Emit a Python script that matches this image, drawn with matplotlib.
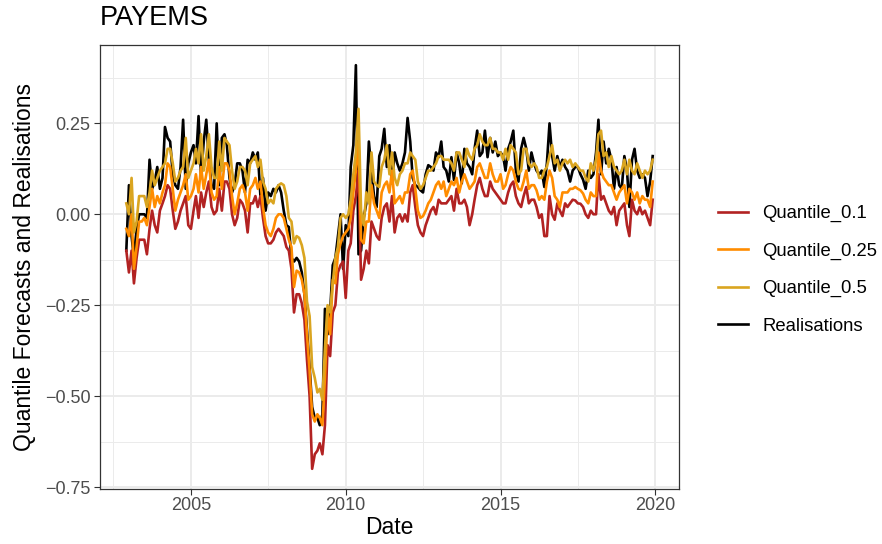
import matplotlib
matplotlib.use("Agg")
import matplotlib.pyplot as plt
import matplotlib.dates as mdates
import pandas as pd
from matplotlib.ticker import FuncFormatter, FixedLocator

plt.rcParams['font.family'] = ['Liberation Sans', 'DejaVu Sans']

# Monthly observations, Dec 2002 .. Dec 2019
start_month = '2002-12-01'
n_months = 205

realisations = [
    -0.10,
    0.08, -0.06, -0.12, -0.04, 0.00, 0.00, 0.00, -0.01, 0.15, 0.07, 0.09, 0.13,
    0.07, 0.10, 0.24, 0.21, 0.20, 0.11, 0.08, 0.07, 0.13, 0.26, 0.07, 0.14,
    0.17, 0.19, 0.14, 0.27, 0.10, 0.20, 0.26, 0.15, 0.08, 0.07, 0.25, 0.08,
    0.21, 0.22, 0.19, 0.10, 0.06, 0.08, 0.14, 0.14, 0.12, 0.06, 0.15, 0.14,
    0.17, 0.15, 0.17, 0.05, 0.10, 0.01, 0.06, 0.05, 0.07, 0.06, 0.08, 0.06,
    0.01, -0.03, -0.035, -0.12, -0.13, -0.12, -0.13, -0.16, -0.22, -0.32, -0.42, -0.53,
    -0.56, -0.56, -0.58, -0.55, -0.26, -0.33, -0.27, -0.14, -0.12, -0.06, 0.00, -0.15,
    -0.03, -0.06, 0.13, 0.19, 0.41, -0.11, -0.10, -0.01, 0.03, 0.20, 0.12, 0.05,
    0.02, 0.16, 0.18, 0.235, 0.13, 0.19, 0.085, 0.17, 0.14, 0.12, 0.14, 0.17,
    0.265, 0.20, 0.10, 0.08, 0.075, 0.066, 0.06, 0.11, 0.135, 0.13, 0.12, 0.17,
    0.157, 0.20, 0.13, 0.12, 0.09, 0.157, 0.094, 0.17, 0.14, 0.085, 0.18, 0.14,
    0.13, 0.11, 0.18, 0.23, 0.16, 0.17, 0.23, 0.157, 0.21, 0.17, 0.20, 0.16,
    0.17, 0.16, 0.12, 0.18, 0.20, 0.23, 0.12, 0.09, 0.18, 0.21, 0.18, 0.12,
    0.17, 0.14, 0.12, 0.11, 0.12, 0.075, 0.14, 0.25, 0.16, 0.12, 0.16, 0.13,
    0.15, 0.13, 0.12, 0.09, 0.12, 0.13, 0.13, 0.11, 0.095, 0.07, 0.12, 0.10,
    0.11, 0.17, 0.26, 0.11, 0.20, 0.14, 0.18, 0.15, 0.07, 0.13, 0.08, 0.07,
    0.16, 0.12, 0.02, 0.15, 0.18, 0.12, 0.10, 0.11, 0.10, 0.05, 0.09, 0.16,
]

quantile_50 = [
    0.03,
    0.00, 0.10, -0.05, -0.02, 0.05, 0.05, 0.05, 0.02, 0.06, 0.12, 0.08, 0.10,
    0.12, 0.13, 0.14, 0.18, 0.18, 0.14, 0.09, 0.10, 0.12, 0.13, 0.21, 0.10,
    0.12, 0.14, 0.18, 0.14, 0.22, 0.12, 0.16, 0.22, 0.13, 0.10, 0.10, 0.20,
    0.12, 0.21, 0.20, 0.19, 0.12, 0.07, 0.09, 0.13, 0.13, 0.12, 0.08, 0.14,
    0.15, 0.16, 0.13, 0.15, 0.09, 0.07, 0.03, 0.04, 0.03, 0.07, 0.08, 0.085,
    0.08, 0.05, -0.01, -0.02, -0.08, -0.06, -0.065, -0.085, -0.12, -0.24, -0.28, -0.42,
    -0.45, -0.49, -0.48, -0.51, -0.37, -0.25, -0.27, -0.19, -0.12, -0.09, -0.01, 0.00,
    -0.01, 0.00, 0.04, 0.11, 0.17, 0.29, 0.01, -0.03, 0.06, 0.03, 0.17, 0.09,
    0.08, 0.075, 0.13, 0.15, 0.19, 0.11, 0.17, 0.10, 0.08, 0.11, 0.12, 0.14,
    0.14, 0.17, 0.16, 0.15, 0.09, 0.07, 0.08, 0.10, 0.12, 0.12, 0.13, 0.14,
    0.16, 0.16, 0.15, 0.15, 0.15, 0.14, 0.12, 0.17, 0.17, 0.15, 0.13, 0.18,
    0.16, 0.15, 0.18, 0.19, 0.22, 0.20, 0.19, 0.19, 0.21, 0.18, 0.18, 0.17,
    0.17, 0.15, 0.18, 0.15, 0.19, 0.18, 0.17, 0.11, 0.12, 0.18, 0.18, 0.14,
    0.13, 0.14, 0.13, 0.10, 0.10, 0.12, 0.13, 0.16, 0.19, 0.14, 0.15, 0.12,
    0.14, 0.15, 0.14, 0.15, 0.13, 0.14, 0.13, 0.12, 0.12, 0.10, 0.09, 0.14,
    0.12, 0.15, 0.22, 0.23, 0.16, 0.17, 0.13, 0.16, 0.13, 0.12, 0.11, 0.12,
    0.15, 0.11, 0.15, 0.12, 0.11, 0.14, 0.12, 0.10, 0.12, 0.11, 0.12, 0.15,
]

quantile_25 = [
    -0.04,
    -0.06, 0.00, -0.15, -0.09, -0.02, -0.02, -0.01, -0.03, 0.02, 0.07, 0.02, 0.05,
    0.03, 0.06, 0.08, 0.14, 0.13, 0.07, 0.01, 0.04, 0.06, 0.08, 0.11, 0.04,
    0.05, 0.07, 0.11, 0.06, 0.13, 0.07, 0.11, 0.15, 0.06, 0.04, 0.05, 0.13,
    0.07, 0.14, 0.14, 0.12, 0.05, 0.00, 0.03, 0.07, 0.08, 0.06, 0.01, 0.07,
    0.08, 0.10, 0.07, 0.09, 0.02, -0.03, -0.05, -0.06, -0.04, -0.01, 0.00, 0.00,
    -0.01, -0.04, -0.07, -0.09, -0.20, -0.155, -0.16, -0.18, -0.22, -0.33, -0.43, -0.55,
    -0.57, -0.55, -0.56, -0.58, -0.45, -0.27, -0.33, -0.18, -0.19, -0.11, -0.08, -0.06,
    -0.05, -0.04, -0.01, 0.06, 0.12, 0.20, -0.07, -0.08, -0.02, -0.02, 0.08, 0.03,
    0.01, -0.01, 0.06, 0.08, 0.09, 0.06, 0.12, 0.03, 0.04, 0.05, 0.03, 0.06,
    0.06, 0.11, 0.12, 0.07, 0.01, -0.01, -0.005, 0.01, 0.03, 0.04, 0.06, 0.08,
    0.09, 0.07, 0.09, 0.05, 0.07, 0.09, 0.08, 0.10, 0.06, 0.09, 0.11, 0.09,
    0.07, 0.08, 0.09, 0.13, 0.14, 0.12, 0.10, 0.10, 0.14, 0.11, 0.09, 0.09,
    0.11, 0.07, 0.08, 0.11, 0.13, 0.12, 0.09, 0.07, 0.066, 0.09, 0.12, 0.07,
    0.08, 0.08, 0.066, 0.04, 0.05, 0.04, 0.09, 0.12, 0.10, 0.05, 0.04, 0.02,
    0.06, 0.06, 0.06, 0.07, 0.07, 0.075, 0.07, 0.066, 0.057, 0.04, 0.03, 0.06,
    0.05, 0.05, 0.17, 0.12, 0.10, 0.09, 0.08, 0.08, 0.06, 0.04, 0.06, 0.07,
    0.08, 0.03, 0.07, 0.06, 0.04, 0.06, 0.03, 0.05, 0.04, 0.04, 0.02, 0.09,
]

quantile_10 = [
    -0.10,
    -0.16, -0.10, -0.19, -0.12, -0.07, -0.07, -0.07, -0.11, -0.04, 0.01, -0.03, -0.05,
    0.01, 0.03, 0.05, 0.08, 0.07, 0.01, -0.04, -0.02, 0.01, 0.03, 0.05, -0.03,
    -0.04, 0.01, 0.05, -0.01, 0.06, 0.02, 0.06, 0.09, 0.02, 0.00, 0.01, 0.07,
    0.01, 0.09, 0.09, 0.07, 0.00, -0.03, -0.01, 0.04, 0.03, 0.01, -0.05, 0.03,
    0.03, 0.05, 0.02, 0.05, -0.01, -0.06, -0.08, -0.08, -0.07, -0.05, -0.04, -0.05,
    -0.06, -0.09, -0.10, -0.15, -0.27, -0.22, -0.22, -0.245, -0.29, -0.40, -0.50, -0.70,
    -0.66, -0.65, -0.63, -0.66, -0.58, -0.36, -0.39, -0.27, -0.25, -0.16, -0.14, -0.13,
    -0.23, -0.10, -0.08, 0.01, 0.05, 0.12, -0.18, -0.15, -0.10, -0.135, -0.02, -0.04,
    -0.06, -0.07, -0.01, 0.02, 0.03, -0.02, 0.05, -0.05, -0.01, 0.00, -0.02, 0.00,
    -0.02, 0.06, 0.08, 0.02, -0.03, -0.05, -0.06, -0.03, -0.01, 0.01, 0.02, 0.00,
    0.04, 0.03, 0.03, 0.03, 0.04, 0.05, 0.01, 0.07, 0.03, 0.03, 0.04, 0.02,
    -0.03, 0.00, 0.04, 0.08, 0.10, 0.07, 0.05, 0.05, 0.09, 0.07, 0.06, 0.05,
    0.04, 0.03, 0.03, 0.06, 0.08, 0.09, 0.05, 0.03, 0.02, 0.05, 0.075, 0.03,
    0.04, 0.04, 0.02, -0.01, 0.00, -0.06, -0.06, 0.05, 0.00, -0.015, 0.03, 0.01,
    -0.005, 0.03, 0.02, 0.03, 0.04, 0.038, 0.03, 0.029, 0.02, 0.00, -0.01, 0.01,
    0.00, 0.00, 0.11, 0.04, 0.05, 0.03, 0.01, 0.00, 0.02, -0.03, 0.01, 0.02,
    0.03, -0.03, -0.06, 0.04, 0.01, 0.00, 0.02, 0.00, 0.01, -0.01, -0.03, 0.04,
]

series_labels = ['Quantile_0.1', 'Quantile_0.25', 'Quantile_0.5', 'Realisations']
series_colors = ['#B22222', '#FF8C00', '#DAA520', '#000000']
y_ticks = [-0.75, -0.50, -0.25, 0.00, 0.25]
y_minor = [-0.625, -0.375, -0.125, 0.125, 0.375]
x_tick_years = [2005, 2010, 2015, 2020]
x_minor_dates = ['2002-07-02', '2007-07-02', '2012-07-02', '2017-07-02']

dates = pd.date_range(start_month, periods=n_months, freq='MS')

W, H = 882, 544
fig = plt.figure(figsize=(W / 100, H / 100), dpi=100)
fig.patch.set_facecolor('white')

px_left, px_right, px_top, px_bottom = 100, 679, 45, 489
ax = fig.add_axes([px_left / W, 1 - px_bottom / H,
                   (px_right - px_left) / W, (px_bottom - px_top) / H])

series_values = [quantile_10, quantile_25, quantile_50, realisations]
lines = {}
draw_order = [3, 0, 1, 2]
for pos, k in enumerate(draw_order):
    ln, = ax.plot(dates, series_values[k], color=series_colors[k], lw=1.9,
                  label=series_labels[k], solid_joinstyle='round', zorder=3 + pos)
    lines[k] = ln

ax.margins(x=0.05, y=0.05)

ax.yaxis.set_major_locator(FixedLocator(y_ticks))
ax.yaxis.set_minor_locator(FixedLocator(y_minor))
ax.yaxis.set_major_formatter(FuncFormatter(lambda v, p: f"{v:.2f}".replace('-', '\u2212')))

major_x = [mdates.date2num(pd.Timestamp(f'{y}-01-01')) for y in x_tick_years]
minor_x = [mdates.date2num(pd.Timestamp(d)) for d in x_minor_dates]
ax.xaxis.set_major_locator(FixedLocator(major_x))
ax.xaxis.set_minor_locator(FixedLocator(minor_x))
ax.xaxis.set_major_formatter(FuncFormatter(lambda v, p: mdates.num2date(v).strftime('%Y')))

ax.grid(True, which='major', color='#EBEBEB', lw=1.4, zorder=0)
ax.grid(True, which='minor', color='#EBEBEB', lw=0.7, zorder=0)
ax.set_axisbelow(True)

for s in ax.spines.values():
    s.set_color('#333333')
    s.set_linewidth(0.9)

ax.tick_params(which='major', length=4.0, width=0.8, color='#333333',
               labelsize=13, labelcolor='#4D4D4D', pad=3)
ax.tick_params(axis='x', which='major', pad=1.5)
ax.tick_params(which='minor', length=0)

ax.set_xlabel('Date', fontsize=16.5, color='black', labelpad=2)
ax.set_ylabel('Quantile Forecasts and Realisations', fontsize=16.5, color='black', labelpad=6)

fig.text(px_left / W, 1 - 18 / H, 'PAYEMS', fontsize=19.5, ha='left', va='center')

handles = [lines[k] for k in range(4)]
fig.legend(handles, series_labels, loc='center left',
           bbox_to_anchor=(718 / W, 1 - 270 / H), frameon=False, fontsize=13.3,
           handlelength=1.6, handletextpad=0.8, labelspacing=1.1,
           borderpad=0, borderaxespad=0)

fig.savefig('out.png', dpi=100, facecolor='white')
